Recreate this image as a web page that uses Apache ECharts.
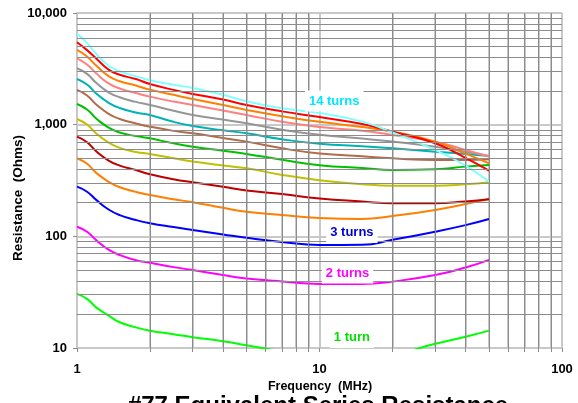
<!DOCTYPE html>
<html><head><meta charset="utf-8">
<script src="https://cdn.jsdelivr.net/npm/echarts@6/dist/echarts.min.js"></script>
<style>html,body{margin:0;padding:0;background:#fff}#c{width:578px;height:403px}</style>
</head><body><div id="c"></div>
<script>
// Frequency (MHz) sample points
const frequencies = [1, 1.1, 1.2, 1.35, 1.5, 1.75, 2, 2.5, 3, 4, 5, 7, 10, 15, 20, 30, 40, 50];
// Resistance (Ohms) per number of turns
const turns1  = [30.5, 27.5, 23.1, 19.5, 17, 15.3, 14.3, 13.3, 12.5, 11.5, 10.6, 9.4, 9.0, 8.7, 8.9, 10.9, 12.6, 14.3];
const turns2  = [122, 110, 92.5, 76, 68, 61, 58, 53, 50, 45, 42, 39.4, 37.5, 37.5, 39.3, 45, 52.5, 61.5];
const turns3  = [279, 251, 212, 174, 155, 140, 131, 121, 114, 104, 97, 89, 83.5, 84, 93, 110, 126, 143];
const turns4  = [500, 446, 370, 308, 275, 250, 234, 215, 202, 180, 166, 155, 146, 143, 152, 172, 195, 216];
const turns5  = [781, 696, 579, 477, 430, 392, 360, 325, 305, 278, 257, 239, 218, 205, 198, 198, 205, 215];
const turns6  = [1125, 1003, 834, 690, 620, 570, 547, 500, 467, 430, 407, 355, 318, 293, 284, 284, 292, 305];
const turns7  = [1531, 1365, 1135, 940, 850, 790, 755, 680, 635, 585, 547, 485, 434, 409, 393, 398, 421, 436];
const turns8  = [2047, 1825, 1517, 1250, 1125, 1026, 960, 880, 837, 760, 705, 614, 552, 521, 500, 483, 483, 490];
const turns9  = [2565, 2290, 1900, 1570, 1410, 1285, 1222, 1060, 973, 890, 837, 740, 675, 641, 615, 573, 547, 525];
const turns10 = [3200, 2850, 2370, 1950, 1760, 1600, 1500, 1330, 1222, 1110, 1028, 901, 812, 750, 705, 635, 573, 525];
const turns11 = [3930, 3460, 2880, 2340, 2110, 1920, 1782, 1610, 1500, 1340, 1222, 1062, 955, 881, 809, 705, 593, 518];
const turns12 = [4670, 4070, 3380, 2720, 2450, 2240, 2060, 1850, 1700, 1500, 1356, 1191, 1060, 953, 865, 705, 550, 451];
const turns13 = [5470, 4650, 3920, 3110, 2800, 2560, 2310, 2050, 1884, 1680, 1500, 1315, 1170, 1012, 865, 681, 505, 387];
const turns14 = [6500, 5400, 4290, 3370, 3010, 2710, 2500, 2280, 2130, 1850, 1620, 1400, 1270, 1065, 850, 593, 430, 310];
// Axis ticks
const xMajorTicks = [1, 10, 100];
const xMinorTicks = [2, 3, 4, 5, 6, 7, 8, 9, 20, 30, 40, 50, 60, 70, 80, 90];
const yMajorTicks = [10, 100, 1000, 10000];
const yMinorTicks = [20, 30, 40, 50, 60, 70, 80, 90, 200, 300, 400, 500, 600, 700, 800, 900,
                     2000, 3000, 4000, 5000, 6000, 7000, 8000, 9000];
const xTickLabels = ['1', '10', '100'];
const yTickLabels = ['10', '100', '1,000', '10,000'];

const FONT = '"Liberation Sans", Arial, sans-serif';
const curves = [
  {name: '1 turn', values: turns1, color: '#00ff00'},
  {name: '2 turns', values: turns2, color: '#ff00ff'},
  {name: '3 turns', values: turns3, color: '#0000ff'},
  {name: '4 turns', values: turns4, color: '#ff8000'},
  {name: '5 turns', values: turns5, color: '#c00000'},
  {name: '6 turns', values: turns6, color: '#c0c000'},
  {name: '7 turns', values: turns7, color: '#00c000'},
  {name: '8 turns', values: turns8, color: '#b26b4a'},
  {name: '9 turns', values: turns9, color: '#00b3b3'},
  {name: '10 turns', values: turns10, color: '#969696'},
  {name: '11 turns', values: turns11, color: '#ff8080'},
  {name: '12 turns', values: turns12, color: '#ff8000'},
  {name: '13 turns', values: turns13, color: '#ff0000'},
  {name: '14 turns', values: turns14, color: '#80ffff'}
];
const labelDefs = {
  '14 turns': {coord: [11.5, 1630], color: '#00e8ff'},
  '3 turns': {coord: [13.6, 108], color: '#0000d0'},
  '2 turns': {coord: [13.05, 47], color: '#ff00ff'},
  '1 turn': {coord: [13.6, 12.4], color: '#00e000'}
};

const gridLines = [];
xMinorTicks.forEach(v => gridLines.push([{coord: [v, 10]}, {coord: [v, 10000]}]));
yMinorTicks.forEach(v => gridLines.push([{coord: [1, v]}, {coord: [100, v]}]));

const series = [{
  type: 'line', data: [], silent: true, clip: false, z: 1, animation: false,
  markLine: {
    silent: true, animation: false, symbol: ['none', 'none'], label: {show: false},
    lineStyle: {color: '#8c8c8c', width: 1, type: 'solid'},
    emphasis: {disabled: true},
    data: gridLines
  }
}];
curves.forEach(c => {
  const s = {
    type: 'line', name: c.name,
    data: frequencies.map((f, i) => [f, c.values[i]]),
    showSymbol: false, symbol: 'none', smooth: 0.5,
    lineStyle: {color: c.color, width: 2}, itemStyle: {color: c.color},
    z: 3, animation: false, clip: true
  };
  const ld = labelDefs[c.name];
  if (ld) {
    s.markPoint = {
      symbol: 'rect', symbolSize: 0, animation: false, silent: true,
      itemStyle: {color: 'rgba(0,0,0,0)'},
      label: {show: true, position: 'inside', formatter: c.name, color: ld.color,
        fontWeight: 'bold', fontSize: 13, fontFamily: FONT,
        backgroundColor: '#ffffff', padding: [4, 4]},
      data: [{coord: ld.coord}]
    };
  }
  series.push(s);
});

const chart = echarts.init(document.getElementById('c'), null, {renderer: 'canvas'});
chart.setOption({
  animation: false,
  backgroundColor: '#ffffff',
  grid: {left: 77, right: 16, top: 13, bottom: 55, containLabel: false},
  xAxis: {
    type: 'log', logBase: 10, min: 1, max: 100,
    axisLine: {show: true, lineStyle: {color: '#c8c8c8', width: 2}},
    axisTick: {show: true, length: 4, inside: false, lineStyle: {color: '#8c8c8c'},
      customValues: xMajorTicks.concat(xMinorTicks)},
    axisLabel: {color: '#000', fontWeight: 'bold', fontSize: 13, fontFamily: FONT, margin: 15,
      customValues: xMajorTicks,
      formatter: v => { const i = xMajorTicks.indexOf(Math.round(v)); return i >= 0 ? xTickLabels[i] : ''; }},
    splitLine: {show: true, lineStyle: {color: '#c8c8c8', width: 2}}
  },
  yAxis: {
    type: 'log', logBase: 10, min: 10, max: 10000,
    axisLine: {show: true, lineStyle: {color: '#c8c8c8', width: 2}},
    axisTick: {show: true, length: 4, inside: false, lineStyle: {color: '#8c8c8c'}},
    axisLabel: {color: '#000', fontWeight: 'bold', fontSize: 13, fontFamily: FONT, margin: 10,
      formatter: v => { const i = yMajorTicks.indexOf(Math.round(v)); return i >= 0 ? yTickLabels[i] : ''; }},
    splitLine: {show: true, lineStyle: {color: '#c8c8c8', width: 2}}
  },
  graphic: [
    {type: 'text', x: 320, y: 387, silent: true,
      style: {text: 'Frequency  (MHz)', font: 'bold 12.5px ' + FONT, fill: '#000', align: 'center', verticalAlign: 'middle'}},
    {type: 'text', x: 18, y: 198, rotation: Math.PI / 2, silent: true,
      style: {text: 'Resistance  (Ohms)', font: 'bold 13.5px ' + FONT, fill: '#000', align: 'center', verticalAlign: 'middle'}},
    {type: 'text', x: 318, y: 406, silent: true,
      style: {text: '#77 Equivalent Series Resistance', font: 'bold 24px ' + FONT, fill: '#000', align: 'center', verticalAlign: 'middle'}}
  ],
  series: series
});
</script>
</body></html>
